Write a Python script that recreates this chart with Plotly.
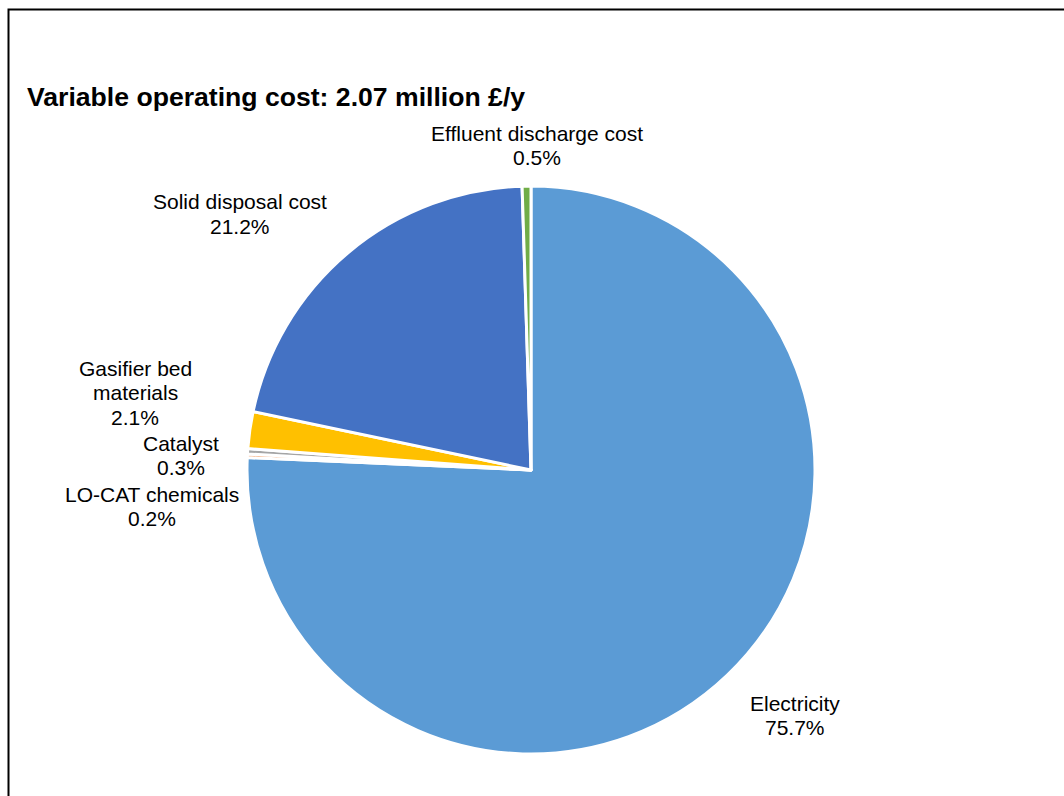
import plotly.graph_objects as go

# ---- data ----
labels = ["Electricity", "LO-CAT chemicals", "Catalyst", "Gasifier bed materials",
          "Solid disposal cost", "Effluent discharge cost"]
values = [75.7, 0.2, 0.3, 2.1, 21.2, 0.5]
colors = ["#5B9BD5", "#ED7D31", "#A5A5A5", "#FFC000", "#4472C4", "#70AD47"]
# how each label is broken into lines in the reference
label_lines = [["Electricity"], ["LO-CAT chemicals"], ["Catalyst"],
               ["Gasifier bed", "materials"], ["Solid disposal cost"],
               ["Effluent discharge cost"]]
title_text = "Variable operating cost: 2.07 million £/y"

# ---- layout constants (pixels) ----
W, H = 1064, 796
cx, cy, r = 531, 470, 284
# label block centre-x and first-line y (pixels from top)
label_pos = [(795, 703), (152, 494), (181, 443), (135, 368), (240, 202), (537, 133)]
pitch = 24.5
font_family = "Liberation Sans, Arial, sans-serif"

fig = go.Figure(go.Pie(
    labels=labels,
    values=values,
    sort=False,
    direction="clockwise",
    rotation=0,
    textinfo="none",
    hoverinfo="label+percent",
    marker=dict(colors=colors, line=dict(color="white", width=3)),
    domain=dict(x=[(cx - r) / W, (cx + r) / W], y=[(H - cy - r) / H, (H - cy + r) / H]),
    showlegend=False,
))

total = sum(values)
annotations = []
for lines, v, (px, py) in zip(label_lines, values, label_pos):
    all_lines = lines + [f"{100 * v / total:.1f}%"]
    for i, t in enumerate(all_lines):
        annotations.append(dict(
            x=px / W, y=1 - (py + i * pitch) / H, xref="paper", yref="paper",
            text=t, showarrow=False, xanchor="center", yanchor="middle",
            font=dict(family=font_family, size=21, color="#000000"),
        ))

annotations.append(dict(
    x=25 / W, y=1 - 97 / H, xref="paper", yref="paper",
    text=f"<b>{title_text}</b>", showarrow=False, xanchor="left", yanchor="middle",
    font=dict(family=font_family, size=26.6, color="#000000"),
))

fig.update_layout(
    width=W, height=H,
    margin=dict(l=0, r=0, t=0, b=0),
    paper_bgcolor="white", plot_bgcolor="white",
    annotations=annotations,
    shapes=[dict(type="rect", xref="paper", yref="paper",
                 x0=8.5 / W, x1=1.05, y0=-0.05, y1=1 - 9.5 / H,
                 line=dict(color="black", width=2))],
)

fig.write_html("out.html")
